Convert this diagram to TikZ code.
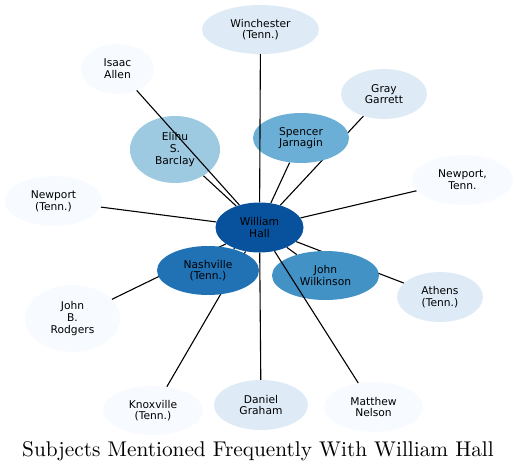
\documentclass[tikz,border=0pt]{standalone}
\usepackage{fontspec}
\newfontfamily\nodefont{DejaVu Sans}
\newfontfamily\titlefont{lmroman10-regular.otf}
\usetikzlibrary{shapes.geometric}
\pgfdeclarelayer{bg}
\pgfsetlayers{bg,main}
\definecolor{cA}{HTML}{08519C}
\definecolor{cB}{HTML}{2171B5}
\definecolor{cC}{HTML}{4292C6}
\definecolor{cD}{HTML}{6BAED6}
\definecolor{cE}{HTML}{9ECAE1}
\definecolor{cF}{HTML}{DEEBF7}
\definecolor{cG}{HTML}{F7FBFF}
\tikzset{
  subj/.style={ellipse, draw=none, inner sep=0pt, align=center, text=black,
    font=\nodefont\fontsize{10.7}{11.7}\selectfont},
  link/.style={draw=black, line width=1.1pt},
}
\begin{document}
\begin{tikzpicture}[x=1pt,y=-1pt]
\useasboundingbox (0,0) rectangle (517,471);
\node[subj, fill=cA, minimum width=88pt, minimum height=50pt] (hall) at (259.5,227.5) {William\\Hall};
\node[subj, fill=cB, minimum width=102pt, minimum height=49pt] (nash) at (208,270.5) {Nashville\\(Tenn.)};
\node[subj, fill=cC, minimum width=107pt, minimum height=49pt] (wilk) at (325.5,275.5) {John\\Wilkinson};
\node[subj, fill=cD, minimum width=96pt, minimum height=50pt] (spen) at (301,138) {Spencer\\Jarnagin};
\node[subj, fill=cE, minimum width=90pt, minimum height=67pt] (elihu) at (175,149.5) {Elihu\\S.\\Barclay};
\node[subj, fill=cF, minimum width=117pt, minimum height=49pt] (winch) at (260.5,29.5) {Winchester\\(Tenn.)};
\node[subj, fill=cG, minimum width=73pt, minimum height=50pt] (isaac) at (117.5,69) {Isaac\\Allen};
\node[subj, fill=cF, minimum width=86pt, minimum height=50pt] (gray) at (384,94) {Gray\\Garrett};
\node[subj, fill=cG, minimum width=101pt, minimum height=50pt] (newpa) at (462.5,180) {Newport,\\Tenn.};
\node[subj, fill=cG, minimum width=97pt, minimum height=50pt] (newpb) at (53.5,201) {Newport\\(Tenn.)};
\node[subj, fill=cF, minimum width=86pt, minimum height=50pt] (athens) at (440,297) {Athens\\(Tenn.)};
\node[subj, fill=cG, minimum width=95pt, minimum height=67pt] (rodg) at (72.5,318.5) {John\\B.\\Rodgers};
\node[subj, fill=cG, minimum width=100pt, minimum height=49pt] (knox) at (153,410.5) {Knoxville\\(Tenn.)};
\node[subj, fill=cF, minimum width=94pt, minimum height=50pt] (daniel) at (261,405) {Daniel\\Graham};
\node[subj, fill=cG, minimum width=99pt, minimum height=50pt] (nelson) at (373.5,407) {Matthew\\Nelson};
\node[anchor=base, inner sep=0pt, font=\titlefont\fontsize{21.3}{24}\selectfont] (title) at (258,456) {Subjects Mentioned Frequently With William Hall};
\begin{pgfonlayer}{bg}
\draw[link] (hall) -- (nash);
\draw[link] (hall) -- (wilk);
\draw[link] (hall) -- (spen);
\draw[link] (hall) -- (elihu);
\draw[link] (hall) -- (gray);
\draw[link] (hall) -- (newpa);
\draw[link] (hall) -- (newpb);
\draw[link] (hall) -- (athens);
\draw[link] (hall) -- (rodg);
\draw[link] (hall) -- (knox);
\draw[link] (hall) -- (daniel);
\end{pgfonlayer}
\draw[link] (hall) -- (isaac);
\draw[link] (hall) -- (winch);
\draw[link] (hall) -- (nelson);
\end{tikzpicture}
\end{document}
